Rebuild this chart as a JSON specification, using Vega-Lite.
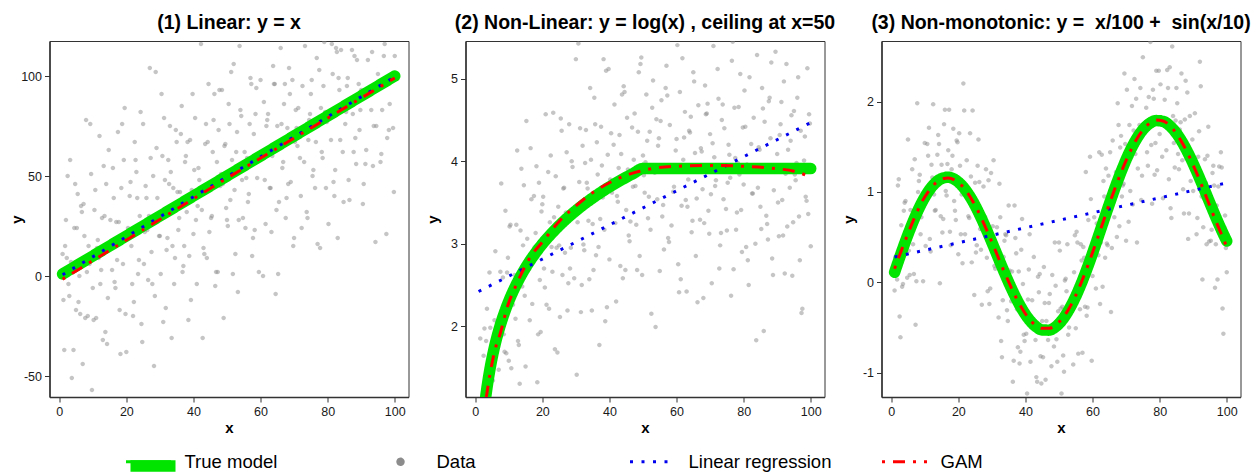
{
"$schema":"https://vega.github.io/schema/vega-lite/v6.json",
"padding":{"left":8.5,"top":12,"right":0,"bottom":0},
"background":"white",
"datasets":{
"d1":[{"x":1,"y":11},{"x":1.5,"y":-37},{"x":2,"y":28},{"x":2.5,"y":50},{"x":3,"y":-10},{"x":3.5,"y":7},{"x":4.5,"y":24},{"x":5,"y":-17},{"x":5.5,"y":41},{"x":6,"y":0},{"x":6.5,"y":35},{"x":7,"y":-44},{"x":7.5,"y":20},{"x":8,"y":78},{"x":8.5,"y":-20},{"x":9,"y":6},{"x":9.5,"y":51},{"x":10,"y":-6},{"x":10.5,"y":33},{"x":11,"y":-21},{"x":11.5,"y":18},{"x":12,"y":70},{"x":12.5,"y":3},{"x":13,"y":-32},{"x":13.5,"y":30},{"x":14,"y":46},{"x":14.5,"y":-11},{"x":15,"y":15},{"x":16,"y":54},{"x":16.5,"y":-3},{"x":17,"y":27},{"x":17.5,"y":72},{"x":18,"y":-17},{"x":18.5,"y":44},{"x":19,"y":6},{"x":19.5,"y":84},{"x":20,"y":-38},{"x":20.5,"y":24},{"x":21,"y":40},{"x":21.5,"y":15},{"x":22,"y":-20},{"x":22.5,"y":67},{"x":23,"y":52},{"x":23.5,"y":1},{"x":24,"y":30},{"x":24.5,"y":-24},{"x":25,"y":76},{"x":25.5,"y":22},{"x":26,"y":39},{"x":26.5,"y":-2},{"x":27,"y":104},{"x":27.5,"y":12},{"x":28,"y":50},{"x":28.5,"y":-10},{"x":29,"y":64},{"x":29.5,"y":30},{"x":30,"y":20},{"x":30.5,"y":91},{"x":31,"y":-23},{"x":31.5,"y":48},{"x":32,"y":13},{"x":32.5,"y":58},{"x":33,"y":75},{"x":33.5,"y":-31},{"x":34,"y":44},{"x":34.5,"y":9},{"x":35,"y":67},{"x":35.5,"y":23},{"x":36,"y":42},{"x":36.5,"y":85},{"x":37,"y":5},{"x":37.5,"y":57},{"x":38,"y":32},{"x":38.5,"y":-22},{"x":39,"y":68},{"x":39.5,"y":43},{"x":40,"y":21},{"x":40.5,"y":79},{"x":41,"y":-4},{"x":41.5,"y":54},{"x":42.5,"y":33},{"x":43,"y":14},{"x":43.5,"y":66},{"x":44,"y":9},{"x":44.5,"y":96},{"x":45,"y":45},{"x":45.5,"y":30},{"x":46,"y":78},{"x":46.5,"y":-5},{"x":47,"y":57},{"x":47.5,"y":73},{"x":48,"y":45},{"x":48.5,"y":93},{"x":49,"y":-21},{"x":49.5,"y":66},{"x":50,"y":28},{"x":50.5,"y":86},{"x":51,"y":38},{"x":51.5,"y":58},{"x":52,"y":106},{"x":52.5,"y":11},{"x":53,"y":72},{"x":53.5,"y":28},{"x":54,"y":83},{"x":54.5,"y":48},{"x":55.5,"y":24},{"x":56,"y":59},{"x":56.5,"y":41},{"x":57,"y":99},{"x":57.5,"y":10},{"x":58,"y":71},{"x":58.5,"y":81},{"x":59,"y":49},{"x":59.5,"y":2},{"x":60,"y":98},{"x":60.5,"y":61},{"x":61,"y":87},{"x":61.5,"y":26},{"x":62,"y":78},{"x":63,"y":44},{"x":63.5,"y":60},{"x":64,"y":96},{"x":64.5,"y":-9},{"x":65,"y":75},{"x":65.5,"y":37},{"x":66,"y":114},{"x":66.5,"y":54},{"x":67,"y":86},{"x":67.5,"y":29},{"x":68,"y":74},{"x":68.5,"y":104},{"x":69,"y":47},{"x":69.5,"y":98},{"x":70,"y":19},{"x":70.5,"y":83},{"x":71,"y":65},{"x":72,"y":40},{"x":72.5,"y":95},{"x":73,"y":57},{"x":74,"y":29},{"x":74.5,"y":78},{"x":75,"y":91},{"x":75.5,"y":50},{"x":76.5,"y":67},{"x":77,"y":16},{"x":77.5,"y":103},{"x":78,"y":84},{"x":78.5,"y":59},{"x":79,"y":117},{"x":79.5,"y":44},{"x":80,"y":80},{"x":81,"y":68},{"x":81.5,"y":101},{"x":82,"y":40},{"x":82.5,"y":114},{"x":83,"y":19},{"x":83.5,"y":93},{"x":84,"y":113},{"x":84.5,"y":62},{"x":85.5,"y":82},{"x":86,"y":99},{"x":86.5,"y":38},{"x":87.5,"y":81},{"x":88,"y":110},{"x":88.5,"y":56},{"x":89.5,"y":73},{"x":90,"y":93},{"x":90.5,"y":36},{"x":91.5,"y":63},{"x":92,"y":108},{"x":93,"y":83},{"x":93.5,"y":55},{"x":94.5,"y":75},{"x":95,"y":101},{"x":96,"y":61},{"x":96.5,"y":97},{"x":97,"y":116},{"x":97.5,"y":21},{"x":98.5,"y":86},{"x":99.5,"y":74},{"x":100,"y":110},
{"x":1.25,"y":-12},{"x":2.25,"y":9},{"x":3.25,"y":58},{"x":4.25,"y":-37},{"x":5.25,"y":24},{"x":6.25,"y":-19},{"x":7.25,"y":36},{"x":8.25,"y":2},{"x":9.25,"y":76},{"x":10.25,"y":-22},{"x":11.25,"y":14},{"x":12.25,"y":-4},{"x":13.25,"y":55},{"x":14.25,"y":-34},{"x":15.25,"y":28},{"x":16.25,"y":39},{"x":17.25,"y":8},{"x":18.25,"y":-39},{"x":19.25,"y":58},{"x":20.25,"y":20},{"x":21.25,"y":47},{"x":22.25,"y":-13},{"x":23.25,"y":39},{"x":24.25,"y":82},{"x":25.25,"y":6},{"x":26.25,"y":23},{"x":27.25,"y":59},{"x":28.25,"y":-45},{"x":29.25,"y":39},{"x":30.25,"y":1},{"x":31.25,"y":79},{"x":32.25,"y":19},{"x":33.25,"y":52},{"x":34.25,"y":-4},{"x":35.25,"y":42},{"x":36.25,"y":71},{"x":37.25,"y":15},{"x":38.25,"y":67},{"x":39.25,"y":-12},{"x":40.25,"y":53},{"x":41.25,"y":35},{"x":42.25,"y":116},{"x":43.25,"y":11},{"x":44.25,"y":67},{"x":45.25,"y":29},{"x":46.25,"y":91},{"x":47.25,"y":2},{"x":48.25,"y":51},{"x":49.25,"y":65},{"x":50.25,"y":25},{"x":51.25,"y":102},{"x":52.25,"y":43},{"x":53.25,"y":-8},{"x":54.25,"y":80},{"x":55.25,"y":62},{"x":56.25,"y":37},{"x":57.25,"y":96},{"x":58.25,"y":23},{"x":59.25,"y":59},{"x":61.25,"y":48},{"x":62.25,"y":81},{"x":63.25,"y":22},{"x":64.25,"y":96},{"x":65.25,"y":1},{"x":66.25,"y":76},{"x":67.25,"y":96},{"x":68.25,"y":46},{"x":70.25,"y":67},{"x":71.25,"y":84},{"x":72.25,"y":24},{"x":73.25,"y":115},{"x":74.25,"y":68},{"x":75.25,"y":98},{"x":76.25,"y":44},{"x":78.25,"y":62},{"x":79.25,"y":82},{"x":80.25,"y":26},{"x":81.25,"y":116},{"x":82.25,"y":53},{"x":83.25,"y":99},{"x":85.25,"y":76},{"x":86.25,"y":48},{"x":87.25,"y":113},{"x":88.25,"y":69},{"x":89.25,"y":96},{"x":91.25,"y":56},{"x":92.25,"y":92},{"x":93.25,"y":112},{"x":94.25,"y":17},{"x":96.25,"y":83},{"x":98.25,"y":73},
{"x":1.75,"y":15},{"x":2.75,"y":-4},{"x":3.75,"y":-51},{"x":4.75,"y":46},{"x":5.75,"y":-13},{"x":6.75,"y":32},{"x":7.75,"y":-21},{"x":8.75,"y":15},{"x":9.75,"y":-57},{"x":10.75,"y":43},{"x":11.75,"y":9},{"x":12.75,"y":29},{"x":13.75,"y":-28},{"x":14.75,"y":63},{"x":15.75,"y":3},{"x":16.75,"y":-6},{"x":17.75,"y":27},{"x":18.75,"y":76},{"x":19.75,"y":-19},{"x":20.75,"y":21},{"x":21.75,"y":-4},{"x":22.75,"y":58},{"x":23.75,"y":8},{"x":24.75,"y":-33},{"x":25.75,"y":45},{"x":26.75,"y":30},{"x":27.75,"y":-4},{"x":28.75,"y":102},{"x":29.75,"y":20},{"x":30.75,"y":60},{"x":31.75,"y":-16},{"x":32.75,"y":46},{"x":33.75,"y":15},{"x":34.75,"y":73},{"x":35.75,"y":29},{"x":36.75,"y":2},{"x":37.75,"y":60},{"x":38.75,"y":10},{"x":39.75,"y":91},{"x":40.75,"y":28},{"x":41.75,"y":48},{"x":42.75,"y":-31},{"x":43.75,"y":76},{"x":44.75,"y":22},{"x":45.75,"y":62},{"x":46.75,"y":2},{"x":47.75,"y":93},{"x":48.75,"y":46},{"x":49.75,"y":34},{"x":50.75,"y":76},{"x":51.75,"y":1},{"x":52.75,"y":62},{"x":53.75,"y":115},{"x":54.75,"y":29},{"x":55.75,"y":49},{"x":56.75,"y":76},{"x":57.75,"y":19},{"x":58.75,"y":94},{"x":59.75,"y":60},{"x":60.75,"y":0},{"x":61.75,"y":75},{"x":62.75,"y":44},{"x":63.75,"y":105},{"x":64.75,"y":33},{"x":66.75,"y":57},{"x":67.75,"y":39},{"x":68.75,"y":91},{"x":69.75,"y":15},{"x":70.75,"y":74},{"x":71.75,"y":59},{"x":73.75,"y":32},{"x":74.75,"y":81},{"x":75.75,"y":53},{"x":76.75,"y":109},{"x":77.75,"y":14},{"x":78.75,"y":95},{"x":79.75,"y":77},{"x":81.75,"y":47},{"x":82.75,"y":112},{"x":83.75,"y":68},{"x":84.75,"y":37},{"x":85.75,"y":95},{"x":87.75,"y":62},{"x":88.75,"y":108},{"x":89.75,"y":83},{"x":90.75,"y":46},{"x":92.75,"y":93},{"x":93.75,"y":75},{"x":95.75,"y":57},{"x":96.75,"y":110},{"x":97.75,"y":69},{"x":99.75,"y":42}],
"d2":[{"x":1.5,"y":1.85},{"x":2.5,"y":1.64},{"x":3.5,"y":2.21},{"x":4.5,"y":1.98},{"x":5,"y":1.61},{"x":6,"y":2.91},{"x":6.5,"y":2.03},{"x":7,"y":1.47},{"x":7.5,"y":2.66},{"x":8.5,"y":1.9},{"x":9,"y":3.4},{"x":9.5,"y":2.65},{"x":10,"y":1.58},{"x":10.5,"y":3.23},{"x":11.5,"y":2.52},{"x":12,"y":2.09},{"x":12.5,"y":4.13},{"x":13,"y":1.77},{"x":13.5,"y":3.16},{"x":14,"y":2.48},{"x":14.5,"y":3.71},{"x":15,"y":1.51},{"x":15.5,"y":3.06},{"x":16,"y":2.69},{"x":16.5,"y":4.16},{"x":17,"y":2.27},{"x":17.5,"y":3.58},{"x":18,"y":3.13},{"x":18.5,"y":1.32},{"x":19,"y":3.74},{"x":19.5,"y":1.93},{"x":20,"y":3.48},{"x":20.5,"y":2.7},{"x":21,"y":4.57},{"x":21.5,"y":3.07},{"x":22,"y":2.21},{"x":22.5,"y":4.07},{"x":23,"y":2.66},{"x":23.5,"y":3.32},{"x":24,"y":3.82},{"x":24.5,"y":1.68},{"x":25,"y":2.98},{"x":25.5,"y":4.52},{"x":26,"y":2.62},{"x":26.5,"y":3.68},{"x":27,"y":3.38},{"x":27.5,"y":2.19},{"x":28,"y":4.45},{"x":28.5,"y":2.95},{"x":29,"y":3.93},{"x":29.5,"y":2.58},{"x":30,"y":5.24},{"x":30.5,"y":3.26},{"x":31,"y":3.75},{"x":31.5,"y":2.17},{"x":32,"y":4.19},{"x":32.5,"y":2.92},{"x":33,"y":4.38},{"x":33.5,"y":3.67},{"x":34,"y":2.57},{"x":34.5,"y":4.02},{"x":35,"y":3.24},{"x":35.5,"y":4.77},{"x":36,"y":2.86},{"x":36.5,"y":3.84},{"x":37,"y":1.77},{"x":37.5,"y":4.42},{"x":38,"y":3.56},{"x":38.5,"y":3.17},{"x":39,"y":5.1},{"x":39.5,"y":4.08},{"x":40,"y":2.81},{"x":40.5,"y":4.34},{"x":41,"y":3.71},{"x":41.5,"y":4.69},{"x":42,"y":2.3},{"x":42.5,"y":3.51},{"x":43,"y":4.32},{"x":43.5,"y":4.09},{"x":44,"y":2.58},{"x":44.5,"y":4.84},{"x":45,"y":3.41},{"x":45.5,"y":3.9},{"x":46,"y":3.03},{"x":47,"y":3.69},{"x":47.5,"y":4.58},{"x":48,"y":3.23},{"x":48.5,"y":4.36},{"x":49,"y":2.85},{"x":49.5,"y":5.26},{"x":50,"y":4.07},{"x":50.5,"y":3.62},{"x":51,"y":4.81},{"x":51.5,"y":3.31},{"x":52,"y":4.36},{"x":52.5,"y":2.15},{"x":53,"y":4.98},{"x":53.5,"y":3.86},{"x":54,"y":4.51},{"x":54.5,"y":4.19},{"x":55,"y":2.67},{"x":55.5,"y":4.74},{"x":56,"y":3.47},{"x":56.5,"y":3.95},{"x":57,"y":5.16},{"x":57.5,"y":3.07},{"x":58,"y":4.44},{"x":58.5,"y":3.22},{"x":59,"y":3.63},{"x":60,"y":4.27},{"x":60.5,"y":2.75},{"x":61,"y":4.84},{"x":61.5,"y":3.46},{"x":62,"y":4.02},{"x":62.5,"y":4.6},{"x":63,"y":2.42},{"x":63.5,"y":3.78},{"x":64,"y":4.35},{"x":64.5,"y":3.14},{"x":65,"y":5.08},{"x":65.5,"y":4.1},{"x":66,"y":3.55},{"x":66.5,"y":4.68},{"x":67,"y":3.29},{"x":67.5,"y":4.12},{"x":68,"y":2.34},{"x":68.5,"y":4.92},{"x":69,"y":4.58},{"x":69.5,"y":3.4},{"x":70,"y":4.33},{"x":70.5,"y":2.52},{"x":71,"y":5.4},{"x":71.5,"y":3.7},{"x":72,"y":3.88},{"x":72.5,"y":4.76},{"x":73,"y":2.98},{"x":73.5,"y":4.5},{"x":74,"y":3.54},{"x":75,"y":3.16},{"x":75.5,"y":4.2},{"x":76,"y":3.8},{"x":76.5,"y":5.22},{"x":77,"y":2.69},{"x":77.5,"y":4.04},{"x":78,"y":3.38},{"x":78.5,"y":4.66},{"x":79,"y":5.06},{"x":79.5,"y":2.9},{"x":80,"y":3.72},{"x":80.5,"y":4.42},{"x":81,"y":3.96},{"x":81.5,"y":2.5},{"x":82.5,"y":3.61},{"x":83,"y":4.53},{"x":83.5,"y":3.0},{"x":84,"y":5.29},{"x":84.5,"y":4.17},{"x":85,"y":3.45},{"x":85.5,"y":4.89},{"x":86,"y":1.94},{"x":86.5,"y":3.93},{"x":87,"y":3.24},{"x":87.5,"y":4.73},{"x":88,"y":4.28},{"x":88.5,"y":2.82},{"x":89,"y":3.65},{"x":89.5,"y":5.33},{"x":90,"y":4.09},{"x":90.5,"y":3.09},{"x":91,"y":4.45},{"x":91.5,"y":3.53},{"x":92,"y":4.97},{"x":92.5,"y":3.85},{"x":93,"y":3.21},{"x":94,"y":4.25},{"x":94.5,"y":2.61},{"x":95,"y":4.61},{"x":95.5,"y":3.77},{"x":96,"y":4.77},{"x":96.5,"y":3.33},{"x":97,"y":4.37},{"x":97.5,"y":2.21},{"x":98,"y":4.01},{"x":98.5,"y":3.57},{"x":99,"y":5.13},{"x":99.5,"y":4.57},{"x":100,"y":2.97},
{"x":3.25,"y":1.82},{"x":4.25,"y":2.65},{"x":5.25,"y":1.34},{"x":6.25,"y":1.91},{"x":8.25,"y":2.59},{"x":9.25,"y":1.67},{"x":10.25,"y":3.21},{"x":11.25,"y":2.26},{"x":12.25,"y":3.23},{"x":13.25,"y":1.3},{"x":14.25,"y":2.98},{"x":15.25,"y":4.49},{"x":16.25,"y":2.07},{"x":17.25,"y":2.77},{"x":18.25,"y":3.94},{"x":19.25,"y":2.56},{"x":20.25,"y":3.57},{"x":21.25,"y":2.26},{"x":22.25,"y":3.26},{"x":23.25,"y":4.59},{"x":24.25,"y":2.95},{"x":25.25,"y":2.11},{"x":26.25,"y":3.67},{"x":27.25,"y":4.11},{"x":28.25,"y":2.7},{"x":29.25,"y":3.38},{"x":30.25,"y":1.41},{"x":31.25,"y":4.4},{"x":32.25,"y":2.99},{"x":33.25,"y":3.74},{"x":34.25,"y":4.89},{"x":35.25,"y":2.68},{"x":36.25,"y":4.23},{"x":37.25,"y":3.3},{"x":38.25,"y":5.24},{"x":39.25,"y":2.23},{"x":40.25,"y":3.78},{"x":41.25,"y":4.2},{"x":42.25,"y":3.58},{"x":43.25,"y":2.73},{"x":44.25,"y":4.91},{"x":45.25,"y":4.53},{"x":46.25,"y":3.27},{"x":47.25,"y":4.02},{"x":48.25,"y":2.68},{"x":49.25,"y":5.18},{"x":50.25,"y":3.83},{"x":51.25,"y":4.25},{"x":52.25,"y":3.17},{"x":54.25,"y":3.54},{"x":55.25,"y":4.49},{"x":56.25,"y":2.93},{"x":57.25,"y":4.8},{"x":58.25,"y":3.89},{"x":59.25,"y":3.69},{"x":60.25,"y":5.41},{"x":61.25,"y":2.57},{"x":62.25,"y":4.29},{"x":63.25,"y":3.45},{"x":64.25,"y":4.54},{"x":65.25,"y":4.97},{"x":66.25,"y":2.29},{"x":67.25,"y":4.16},{"x":68.25,"y":3.25},{"x":69.25,"y":4.7},{"x":70.25,"y":3.6},{"x":71.25,"y":4.05},{"x":72.25,"y":5.12},{"x":73.25,"y":3.13},{"x":74.25,"y":4.4},{"x":75.25,"y":3.74},{"x":76.25,"y":2.37},{"x":77.25,"y":4.65},{"x":78.25,"y":3.98},{"x":79.25,"y":3.41},{"x":80.25,"y":4.86},{"x":81.25,"y":2.8},{"x":82.25,"y":4.21},{"x":84.25,"y":3.68},{"x":85.25,"y":3.18},{"x":86.25,"y":4.48},{"x":87.25,"y":3.05},{"x":88.25,"y":5.2},{"x":89.25,"y":3.92},{"x":90.25,"y":3.5},{"x":91.25,"y":4.72},{"x":92.25,"y":2.64},{"x":93.25,"y":4.14},{"x":94.25,"y":4.56},{"x":95.25,"y":3.84},{"x":96.25,"y":5.02},{"x":97.25,"y":2.16},{"x":98.25,"y":4.3},{"x":99.25,"y":3.36},
{"x":2.75,"y":1.97},{"x":5.75,"y":2.07},{"x":6.75,"y":1.84},{"x":7.75,"y":3.73},{"x":8.75,"y":1.69},{"x":9.75,"y":2.83},{"x":10.75,"y":1.49},{"x":11.75,"y":2.62},{"x":12.75,"y":1.82},{"x":13.75,"y":3.91},{"x":14.75,"y":2.37},{"x":16.75,"y":3.54},{"x":17.75,"y":2.96},{"x":18.75,"y":1.9},{"x":19.75,"y":3.39},{"x":20.75,"y":2.47},{"x":21.75,"y":3.87},{"x":22.75,"y":2.96},{"x":23.75,"y":1.72},{"x":24.75,"y":3.45},{"x":25.75,"y":4.37},{"x":26.75,"y":2.89},{"x":27.75,"y":2.52},{"x":28.75,"y":4.0},{"x":29.75,"y":3.39},{"x":30.75,"y":5.43},{"x":31.75,"y":2.5},{"x":32.75,"y":3.98},{"x":33.75,"y":3.28},{"x":34.75,"y":2.19},{"x":35.75,"y":4.45},{"x":36.75,"y":2.96},{"x":37.75,"y":3.95},{"x":38.75,"y":2.06},{"x":39.75,"y":5.12},{"x":40.75,"y":3.62},{"x":41.75,"y":3.25},{"x":42.75,"y":3.92},{"x":43.75,"y":4.81},{"x":44.75,"y":2.68},{"x":45.75,"y":3.1},{"x":46.75,"y":4.41},{"x":47.75,"y":3.7},{"x":48.75,"y":5.08},{"x":49.75,"y":2.62},{"x":50.75,"y":3.99},{"x":51.75,"y":3.57},{"x":52.75,"y":4.65},{"x":53.75,"y":1.99},{"x":54.75,"y":4.28},{"x":55.75,"y":3.33},{"x":56.75,"y":4.89},{"x":57.75,"y":3.02},{"x":58.75,"y":3.93},{"x":59.75,"y":4.13},{"x":60.75,"y":2.41},{"x":61.75,"y":5.25},{"x":62.75,"y":3.53},{"x":63.75,"y":4.37},{"x":64.75,"y":3.28},{"x":65.75,"y":2.85},{"x":67.75,"y":3.66},{"x":68.75,"y":4.57},{"x":69.75,"y":3.12},{"x":70.75,"y":4.22},{"x":71.75,"y":3.77},{"x":72.75,"y":2.7},{"x":73.75,"y":4.69},{"x":74.75,"y":3.42},{"x":75.75,"y":4.08},{"x":76.75,"y":5.45},{"x":77.75,"y":3.17},{"x":78.75,"y":3.84},{"x":79.75,"y":4.41},{"x":80.75,"y":2.96},{"x":81.75,"y":5.02},{"x":82.75,"y":3.61},{"x":83.75,"y":1.83},{"x":84.75,"y":4.14},{"x":85.75,"y":4.64},{"x":86.75,"y":3.34},{"x":87.75,"y":4.77},{"x":88.75,"y":2.62},{"x":89.75,"y":3.9},{"x":90.75,"y":4.32},{"x":91.75,"y":3.1},{"x":92.75,"y":5.18},{"x":93.75,"y":3.68},{"x":94.75,"y":3.26},{"x":95.75,"y":3.98},{"x":96.75,"y":2.8},{"x":98.75,"y":3.52},{"x":99.75,"y":4.46}],
"d3":[{"x":1,"y":-0.09},{"x":1.5,"y":0.26},{"x":2,"y":1.07},{"x":2.5,"y":-0.38},{"x":3,"y":0.63},{"x":3.5,"y":-0.02},{"x":4,"y":0.88},{"x":4.5,"y":0.38},{"x":5,"y":1.58},{"x":5.5,"y":0.08},{"x":6,"y":0.67},{"x":6.5,"y":0.42},{"x":7,"y":1.36},{"x":7.5,"y":0.01},{"x":8,"y":1.0},{"x":8.5,"y":1.19},{"x":9,"y":0.72},{"x":9.5,"y":0.01},{"x":10,"y":1.54},{"x":10.5,"y":0.97},{"x":11,"y":1.4},{"x":11.5,"y":0.48},{"x":12,"y":1.3},{"x":12.5,"y":1.97},{"x":13,"y":0.79},{"x":13.5,"y":1.06},{"x":14,"y":1.63},{"x":14.5,"y":-0.01},{"x":15,"y":1.3},{"x":15.5,"y":0.7},{"x":16,"y":1.91},{"x":16.5,"y":0.96},{"x":17,"y":1.46},{"x":17.5,"y":0.56},{"x":18,"y":1.25},{"x":18.5,"y":1.7},{"x":19,"y":0.79},{"x":19.5,"y":1.57},{"x":20,"y":0.31},{"x":20.5,"y":1.29},{"x":21,"y":0.97},{"x":21.5,"y":2.2},{"x":22,"y":0.53},{"x":22.5,"y":1.35},{"x":23,"y":0.73},{"x":23.5,"y":1.65},{"x":24,"y":0.22},{"x":24.5,"y":0.93},{"x":25,"y":1.1},{"x":25.5,"y":0.41},{"x":26,"y":1.58},{"x":26.5,"y":0.59},{"x":27,"y":-0.25},{"x":27.5,"y":1.06},{"x":28,"y":0.72},{"x":28.5,"y":0.27},{"x":29,"y":1.13},{"x":29.5,"y":-0.07},{"x":30,"y":0.44},{"x":30.5,"y":1.35},{"x":31,"y":0.15},{"x":31.5,"y":0.61},{"x":32,"y":-0.39},{"x":32.5,"y":0.72},{"x":33,"y":-0.83},{"x":33.5,"y":0.28},{"x":34,"y":0.53},{"x":34.5,"y":-0.31},{"x":35,"y":0.85},{"x":35.5,"y":-0.09},{"x":36,"y":0.12},{"x":36.5,"y":-0.87},{"x":37,"y":0.49},{"x":37.5,"y":-0.3},{"x":38,"y":0.12},{"x":38.5,"y":-0.77},{"x":39,"y":0.7},{"x":39.5,"y":-0.58},{"x":40,"y":-0.31},{"x":40.5,"y":-1.23},{"x":41,"y":0.14},{"x":41.5,"y":-0.88},{"x":42,"y":-0.2},{"x":42.5,"y":0.28},{"x":43,"y":-0.64},{"x":43.5,"y":-1.1},{"x":44,"y":-0.11},{"x":44.5,"y":-0.82},{"x":45,"y":-0.43},{"x":45.5,"y":0.17},{"x":46,"y":-1.08},{"x":46.5,"y":-0.53},{"x":47,"y":-0.23},{"x":48,"y":0.08},{"x":48.5,"y":-0.71},{"x":49,"y":-0.04},{"x":49.5,"y":-0.88},{"x":50,"y":0.44},{"x":50.5,"y":-0.29},{"x":51,"y":-0.27},{"x":51.5,"y":-0.99},{"x":52,"y":0.04},{"x":52.5,"y":0.42},{"x":53,"y":-0.5},{"x":53.5,"y":-0.22},{"x":54.5,"y":0.11},{"x":55,"y":-0.51},{"x":55.5,"y":0.44},{"x":56,"y":-0.17},{"x":56.5,"y":0.42},{"x":57,"y":-0.78},{"x":57.5,"y":0.27},{"x":58,"y":1.22},{"x":58.5,"y":-0.28},{"x":59,"y":0.17},{"x":59.5,"y":0.92},{"x":60,"y":0.07},{"x":60.5,"y":0.72},{"x":61,"y":-0.07},{"x":61.5,"y":0.58},{"x":62,"y":1.44},{"x":62.5,"y":0.44},{"x":63,"y":-0.05},{"x":63.5,"y":0.95},{"x":64,"y":1.26},{"x":64.5,"y":0.41},{"x":65,"y":0.87},{"x":65.5,"y":-0.33},{"x":66,"y":1.57},{"x":66.5,"y":0.72},{"x":67,"y":1.22},{"x":67.5,"y":1.98},{"x":68,"y":0.62},{"x":68.5,"y":1.62},{"x":69,"y":1.07},{"x":69.5,"y":2.31},{"x":70,"y":0.46},{"x":70.5,"y":1.45},{"x":71,"y":1.74},{"x":71.5,"y":1.38},{"x":72,"y":0.86},{"x":72.5,"y":2.25},{"x":73,"y":2.03},{"x":73.5,"y":1.26},{"x":74,"y":1.74},{"x":74.5,"y":0.91},{"x":75,"y":2.49},{"x":75.5,"y":1.66},{"x":76,"y":1.93},{"x":76.5,"y":1.29},{"x":77.5,"y":1.52},{"x":78,"y":2.13},{"x":78.5,"y":1.19},{"x":79,"y":2.34},{"x":79.5,"y":1.79},{"x":80,"y":1.64},{"x":81,"y":0.93},{"x":81.5,"y":2.02},{"x":82,"y":1.46},{"x":82.5,"y":2.15},{"x":83,"y":2.38},{"x":83.5,"y":0.71},{"x":84,"y":1.84},{"x":84.5,"y":1.27},{"x":85,"y":2.15},{"x":85.5,"y":1.42},{"x":86,"y":1.69},{"x":86.5,"y":2.31},{"x":87,"y":1.03},{"x":87.5,"y":1.8},{"x":88,"y":1.37},{"x":88.5,"y":0.48},{"x":89,"y":1.84},{"x":89.5,"y":1.4},{"x":90,"y":1.01},{"x":90.5,"y":1.87},{"x":91,"y":0.53},{"x":91.5,"y":1.39},{"x":92,"y":2.44},{"x":92.5,"y":0.95},{"x":93,"y":0.61},{"x":93.5,"y":1.36},{"x":94,"y":0.42},{"x":94.5,"y":1.72},{"x":95,"y":0.88},{"x":95.5,"y":0.58},{"x":96,"y":1.29},{"x":96.5,"y":-0.06},{"x":97,"y":0.85},{"x":97.5,"y":1.06},{"x":98,"y":0.56},{"x":98.5,"y":1.27},{"x":99,"y":-0.57},{"x":99.5,"y":0.74},{"x":100,"y":0.11},
{"x":1.25,"y":0.28},{"x":2.25,"y":1.14},{"x":3.25,"y":-0.05},{"x":4.25,"y":0.9},{"x":5.25,"y":0.35},{"x":6.25,"y":1.25},{"x":7.25,"y":-0.47},{"x":8.25,"y":1.12},{"x":9.25,"y":0.88},{"x":10.25,"y":0.4},{"x":11.25,"y":1.71},{"x":12.25,"y":1.16},{"x":13.25,"y":0.8},{"x":14.25,"y":1.53},{"x":15.25,"y":0.55},{"x":16.25,"y":1.01},{"x":17.25,"y":1.91},{"x":18.25,"y":1.4},{"x":19.25,"y":0.69},{"x":20.25,"y":1.65},{"x":21.25,"y":0.21},{"x":22.25,"y":1.07},{"x":23.25,"y":0.71},{"x":24.25,"y":1.9},{"x":25.25,"y":0.33},{"x":26.25,"y":1.11},{"x":27.25,"y":0.58},{"x":28.25,"y":1.25},{"x":29.25,"y":-0.24},{"x":30.25,"y":0.62},{"x":31.25,"y":0.28},{"x":32.25,"y":1.09},{"x":33.25,"y":-0.2},{"x":34.25,"y":0.52},{"x":35.25,"y":0.13},{"x":36.25,"y":-1.1},{"x":37.25,"y":0.32},{"x":38.25,"y":-0.9},{"x":39.25,"y":-0.02},{"x":40.25,"y":-0.57},{"x":41.25,"y":0.53},{"x":42.25,"y":-0.46},{"x":43.25,"y":-1.05},{"x":44.25,"y":0.09},{"x":45.25,"y":-0.83},{"x":46.25,"y":-0.43},{"x":47.25,"y":-0.13},{"x":49.25,"y":-0.63},{"x":50.25,"y":0.35},{"x":51.25,"y":-0.81},{"x":52.25,"y":-0.1},{"x":53.25,"y":-0.24},{"x":54.25,"y":-0.91},{"x":55.25,"y":0.56},{"x":56.25,"y":-0.3},{"x":57.25,"y":0.39},{"x":58.25,"y":-0.37},{"x":59.25,"y":1.39},{"x":60.25,"y":0.24},{"x":61.25,"y":0.65},{"x":62.25,"y":-0.24},{"x":63.25,"y":1.12},{"x":64.25,"y":0.43},{"x":65.25,"y":1.44},{"x":66.25,"y":1.09},{"x":67.25,"y":0.5},{"x":68.25,"y":1.49},{"x":69.25,"y":1.09},{"x":70.25,"y":2.13},{"x":71.25,"y":1.01},{"x":72.25,"y":1.68},{"x":73.25,"y":0.44},{"x":74.25,"y":2.15},{"x":75.25,"y":1.65},{"x":76.25,"y":1.44},{"x":77.25,"y":2.66},{"x":78.25,"y":2.03},{"x":79.25,"y":1.24},{"x":80.25,"y":2.19},{"x":81.25,"y":1.78},{"x":82.25,"y":2.35},{"x":83.25,"y":0.82},{"x":84.25,"y":1.54},{"x":85.25,"y":1.98},{"x":86.25,"y":1.77},{"x":87.25,"y":0.76},{"x":88.25,"y":2.1},{"x":89.25,"y":1.12},{"x":90.25,"y":1.34},{"x":91.25,"y":0.71},{"x":92.25,"y":2.17},{"x":93.25,"y":0.93},{"x":94.25,"y":1.4},{"x":95.25,"y":0.46},{"x":96.25,"y":1.07},{"x":97.25,"y":0.03},{"x":98.25,"y":1.44},{"x":99.25,"y":0.61},
{"x":1.75,"y":0.03},{"x":2.75,"y":-0.61},{"x":3.75,"y":0.79},{"x":4.75,"y":0.05},{"x":5.75,"y":0.8},{"x":6.75,"y":0.09},{"x":7.75,"y":1.98},{"x":8.75,"y":0.53},{"x":9.75,"y":0.92},{"x":10.75,"y":1.53},{"x":11.75,"y":0.34},{"x":12.75,"y":0.97},{"x":13.75,"y":1.41},{"x":14.75,"y":0.73},{"x":15.75,"y":1.75},{"x":16.75,"y":1.31},{"x":17.75,"y":0.41},{"x":18.75,"y":0.9},{"x":19.75,"y":1.55},{"x":20.75,"y":0.53},{"x":21.75,"y":1.9},{"x":22.75,"y":0.92},{"x":23.75,"y":1.17},{"x":24.75,"y":-0.14},{"x":25.75,"y":1.29},{"x":26.75,"y":0.36},{"x":27.75,"y":0.73},{"x":28.75,"y":-0.1},{"x":29.75,"y":1.21},{"x":30.75,"y":0.18},{"x":31.75,"y":0.34},{"x":32.75,"y":-0.65},{"x":33.75,"y":0.46},{"x":34.75,"y":-0.43},{"x":35.75,"y":-0.21},{"x":36.75,"y":0.85},{"x":37.75,"y":-0.72},{"x":38.75,"y":0.36},{"x":39.75,"y":-0.65},{"x":40.75,"y":-0.19},{"x":42.75,"y":-0.48},{"x":43.75,"y":0.06},{"x":44.75,"y":-1.12},{"x":45.75,"y":-0.23},{"x":46.75,"y":-0.64},{"x":47.75,"y":-0.93},{"x":48.75,"y":0.44},{"x":49.75,"y":-0.32},{"x":50.75,"y":-1.23},{"x":51.75,"y":0.02},{"x":52.75,"y":-0.58},{"x":53.75,"y":-0.31},{"x":54.75,"y":0.52},{"x":55.75,"y":-0.79},{"x":56.75,"y":0.24},{"x":57.75,"y":-0.27},{"x":58.75,"y":0.69},{"x":59.75,"y":-0.87},{"x":60.75,"y":0.5},{"x":61.75,"y":0.3},{"x":62.75,"y":1.41},{"x":63.75,"y":0.27},{"x":64.75,"y":1.18},{"x":65.75,"y":0.38},{"x":66.75,"y":0.95},{"x":67.75,"y":1.74},{"x":68.75,"y":0.95},{"x":69.75,"y":1.53},{"x":70.75,"y":0.67},{"x":71.75,"y":1.95},{"x":72.75,"y":1.42},{"x":74.75,"y":1.18},{"x":75.75,"y":1.77},{"x":76.75,"y":2.05},{"x":77.75,"y":0.87},{"x":78.75,"y":1.54},{"x":79.75,"y":2.34},{"x":80.75,"y":1.39},{"x":81.75,"y":1.77},{"x":82.75,"y":1.14},{"x":83.75,"y":2.61},{"x":84.75,"y":1.79},{"x":85.75,"y":1.25},{"x":86.75,"y":1.35},{"x":87.75,"y":2.23},{"x":88.75,"y":0.76},{"x":89.75,"y":1.58},{"x":90.75,"y":1.2},{"x":91.75,"y":1.67},{"x":92.75,"y":0.03},{"x":93.75,"y":1.1},{"x":94.75,"y":0.45},{"x":95.75,"y":1.21},{"x":96.75,"y":0.42},{"x":97.75,"y":1.28},{"x":98.75,"y":-0.29},{"x":99.75,"y":0.38}],
"lines":[
{"p":1,"s":"t","x":1,"y":1},{"p":1,"s":"t","x":100,"y":100},
{"p":1,"s":"l","x":1,"y":0.6},{"p":1,"s":"l","x":100,"y":99.6},
{"p":1,"s":"g","x":1,"y":-1.6},{"p":1,"s":"g","x":50,"y":48.9},{"p":1,"s":"g","x":100,"y":99},
{"p":2,"s":"t","x":2.5,"y":0.916},{"p":2,"s":"t","x":3,"y":1.099},{"p":2,"s":"t","x":3.5,"y":1.253},{"p":2,"s":"t","x":4,"y":1.386},{"p":2,"s":"t","x":5,"y":1.609},{"p":2,"s":"t","x":6,"y":1.792},{"p":2,"s":"t","x":7,"y":1.946},{"p":2,"s":"t","x":8,"y":2.079},{"p":2,"s":"t","x":9,"y":2.197},{"p":2,"s":"t","x":10,"y":2.303},{"p":2,"s":"t","x":12,"y":2.485},{"p":2,"s":"t","x":14,"y":2.639},{"p":2,"s":"t","x":16,"y":2.773},{"p":2,"s":"t","x":18,"y":2.89},{"p":2,"s":"t","x":20,"y":2.996},{"p":2,"s":"t","x":23,"y":3.135},{"p":2,"s":"t","x":26,"y":3.258},{"p":2,"s":"t","x":29,"y":3.367},{"p":2,"s":"t","x":32,"y":3.466},{"p":2,"s":"t","x":35,"y":3.555},{"p":2,"s":"t","x":38,"y":3.638},{"p":2,"s":"t","x":41,"y":3.714},{"p":2,"s":"t","x":44,"y":3.784},{"p":2,"s":"t","x":47,"y":3.85},{"p":2,"s":"t","x":50,"y":3.912},{"p":2,"s":"t","x":100,"y":3.912},
{"p":2,"s":"l","x":1,"y":2.42},{"p":2,"s":"l","x":100,"y":4.47},
{"p":2,"s":"g","x":2.8,"y":1.0},{"p":2,"s":"g","x":4,"y":1.32},{"p":2,"s":"g","x":5,"y":1.55},{"p":2,"s":"g","x":6,"y":1.73},{"p":2,"s":"g","x":7.3,"y":1.89},{"p":2,"s":"g","x":9.7,"y":2.25},{"p":2,"s":"g","x":12,"y":2.48},{"p":2,"s":"g","x":16.6,"y":2.85},{"p":2,"s":"g","x":20,"y":3.02},{"p":2,"s":"g","x":25,"y":3.27},{"p":2,"s":"g","x":30,"y":3.46},{"p":2,"s":"g","x":35,"y":3.62},{"p":2,"s":"g","x":40,"y":3.74},{"p":2,"s":"g","x":45,"y":3.83},{"p":2,"s":"g","x":50,"y":3.89},{"p":2,"s":"g","x":60,"y":3.94},{"p":2,"s":"g","x":70,"y":3.95},{"p":2,"s":"g","x":80,"y":3.94},{"p":2,"s":"g","x":90,"y":3.91},{"p":2,"s":"g","x":95,"y":3.88},{"p":2,"s":"g","x":100,"y":3.81},
{"p":3,"s":"t","x":1,"y":0.11},{"p":3,"s":"t","x":3,"y":0.326},{"p":3,"s":"t","x":5,"y":0.529},{"p":3,"s":"t","x":7,"y":0.714},{"p":3,"s":"t","x":9,"y":0.873},{"p":3,"s":"t","x":11,"y":1.001},{"p":3,"s":"t","x":13,"y":1.094},{"p":3,"s":"t","x":15,"y":1.147},{"p":3,"s":"t","x":17,"y":1.162},{"p":3,"s":"t","x":19,"y":1.136},{"p":3,"s":"t","x":21,"y":1.073},{"p":3,"s":"t","x":23,"y":0.976},{"p":3,"s":"t","x":25,"y":0.849},{"p":3,"s":"t","x":27,"y":0.697},{"p":3,"s":"t","x":29,"y":0.529},{"p":3,"s":"t","x":31,"y":0.352},{"p":3,"s":"t","x":33,"y":0.172},{"p":3,"s":"t","x":35,"y":-0.001},{"p":3,"s":"t","x":37,"y":-0.16},{"p":3,"s":"t","x":39,"y":-0.298},{"p":3,"s":"t","x":41,"y":-0.408},{"p":3,"s":"t","x":43,"y":-0.486},{"p":3,"s":"t","x":45,"y":-0.528},{"p":3,"s":"t","x":47,"y":-0.53},{"p":3,"s":"t","x":49,"y":-0.493},{"p":3,"s":"t","x":51,"y":-0.416},{"p":3,"s":"t","x":53,"y":-0.302},{"p":3,"s":"t","x":55,"y":-0.156},{"p":3,"s":"t","x":57,"y":0.019},{"p":3,"s":"t","x":59,"y":0.216},{"p":3,"s":"t","x":61,"y":0.428},{"p":3,"s":"t","x":63,"y":0.647},{"p":3,"s":"t","x":65,"y":0.865},{"p":3,"s":"t","x":67,"y":1.075},{"p":3,"s":"t","x":69,"y":1.268},{"p":3,"s":"t","x":71,"y":1.439},{"p":3,"s":"t","x":73,"y":1.58},{"p":3,"s":"t","x":75,"y":1.688},{"p":3,"s":"t","x":77,"y":1.758},{"p":3,"s":"t","x":79,"y":1.789},{"p":3,"s":"t","x":81,"y":1.78},{"p":3,"s":"t","x":83,"y":1.732},{"p":3,"s":"t","x":85,"y":1.649},{"p":3,"s":"t","x":87,"y":1.533},{"p":3,"s":"t","x":89,"y":1.391},{"p":3,"s":"t","x":91,"y":1.229},{"p":3,"s":"t","x":93,"y":1.055},{"p":3,"s":"t","x":95,"y":0.875},{"p":3,"s":"t","x":97,"y":0.698},{"p":3,"s":"t","x":99,"y":0.533},{"p":3,"s":"t","x":100,"y":0.456},
{"p":3,"s":"l","x":1,"y":0.28},{"p":3,"s":"l","x":100,"y":1.1},
{"p":3,"s":"g","x":1,"y":0.15},{"p":3,"s":"g","x":3,"y":0.35},{"p":3,"s":"g","x":5,"y":0.54},{"p":3,"s":"g","x":7,"y":0.72},{"p":3,"s":"g","x":9,"y":0.88},{"p":3,"s":"g","x":11,"y":1.0},{"p":3,"s":"g","x":13,"y":1.09},{"p":3,"s":"g","x":15,"y":1.14},{"p":3,"s":"g","x":17,"y":1.155},{"p":3,"s":"g","x":19,"y":1.13},{"p":3,"s":"g","x":21,"y":1.07},{"p":3,"s":"g","x":23,"y":0.975},{"p":3,"s":"g","x":25,"y":0.85},{"p":3,"s":"g","x":27,"y":0.7},{"p":3,"s":"g","x":29,"y":0.53},{"p":3,"s":"g","x":31,"y":0.355},{"p":3,"s":"g","x":33,"y":0.175},{"p":3,"s":"g","x":35,"y":0.005},{"p":3,"s":"g","x":37,"y":-0.155},{"p":3,"s":"g","x":39,"y":-0.29},{"p":3,"s":"g","x":41,"y":-0.4},{"p":3,"s":"g","x":43,"y":-0.475},{"p":3,"s":"g","x":45,"y":-0.51},{"p":3,"s":"g","x":47,"y":-0.51},{"p":3,"s":"g","x":49,"y":-0.475},{"p":3,"s":"g","x":51,"y":-0.4},{"p":3,"s":"g","x":53,"y":-0.29},{"p":3,"s":"g","x":55,"y":-0.145},{"p":3,"s":"g","x":57,"y":0.03},{"p":3,"s":"g","x":59,"y":0.225},{"p":3,"s":"g","x":61,"y":0.435},{"p":3,"s":"g","x":63,"y":0.65},{"p":3,"s":"g","x":65,"y":0.865},{"p":3,"s":"g","x":67,"y":1.07},{"p":3,"s":"g","x":69,"y":1.26},{"p":3,"s":"g","x":71,"y":1.43},{"p":3,"s":"g","x":73,"y":1.575},{"p":3,"s":"g","x":75,"y":1.685},{"p":3,"s":"g","x":77,"y":1.76},{"p":3,"s":"g","x":79,"y":1.795},{"p":3,"s":"g","x":81,"y":1.785},{"p":3,"s":"g","x":83,"y":1.735},{"p":3,"s":"g","x":85,"y":1.645},{"p":3,"s":"g","x":87,"y":1.525},{"p":3,"s":"g","x":89,"y":1.38},{"p":3,"s":"g","x":91,"y":1.21},{"p":3,"s":"g","x":93,"y":1.03},{"p":3,"s":"g","x":95,"y":0.84},{"p":3,"s":"g","x":97,"y":0.655},{"p":3,"s":"g","x":99,"y":0.48},{"p":3,"s":"g","x":100,"y":0.39}
]
},
"spacing":57,
"bounds":"flush",
"hconcat":[
{"width":359,"height":356,"title":"(1) Linear: y = x",
"layer":[
{"data":{"name":"d1"},"mark":{"type":"point","filled":true,"size":1400,"opacity":0.5,"clip":true},
"encoding":{
"x":{"field":"x","type":"quantitative","scale":{"domain":[-2.9,104.1],"nice":false,"zero":false},"axis":{"values":[0,20,40,60,80,100],"title":"x","labelExpr":"'' + datum.value"}},
"y":{"field":"y","type":"quantitative","scale":{"domain":[-60.5,117.5],"nice":false,"zero":false},"axis":{"values":[-50,0,50,100],"title":"y","labelExpr":"'' + datum.value"}},
"color":{"datum":"Data","scale":{"domain":["True model","Data","Linear regression","GAM"],"range":["#00E400","#8C8C8C","#0000EE","#FF0000"]},
"legend":{"orient":"none","legendX":75,"legendY":396.5,"direction":"horizontal","title":null,"columns":4,"gridAlign":"all","columnPadding":44,"symbolOpacity":1,"symbolSize":2025,"symbolStrokeWidth":3,"labelFontSize":18.5,"labelColor":"#000000","labelOffset":12,"labelLimit":400}},
"shape":{"datum":"Data","scale":{"domain":["True model","Data","Linear regression","GAM"],"range":["stroke","M-0.12,0A0.12,0.12,0,1,0,0.12,0A0.12,0.12,0,1,0,-0.12,0Z","stroke","stroke"]},"legend":{"title":null,"symbolOpacity":1}}
}},
{"data":{"name":"lines"},"transform":[{"filter":"datum.p == 1 && datum.s == 't'"}],"mark":{"type":"line","strokeCap":"round","strokeJoin":"round","clip":true},"encoding":{"x":{"field":"x","type":"quantitative"},"y":{"field":"y","type":"quantitative"},"color":{"datum":"True model"},
"strokeDash":{"datum":"True model","scale":{"domain":["True model","Data","Linear regression","GAM"],"range":[[1,0],[1,0],[3,8.5],[3,8,12,8]]},"legend":{"title":null,"symbolOpacity":1}},
"strokeWidth":{"datum":"True model","scale":{"domain":["True model"],"range":[11.5,11.5]},
"legend":{"orient":"none","legendX":75,"legendY":396.5,"direction":"horizontal","title":null,"symbolType":"stroke","symbolSize":2025,"symbolStrokeColor":"#00E400","symbolOpacity":1,"labelExpr":"''","labelFontSize":18.5,"labelOffset":12}}}},
{"data":{"name":"lines"},"transform":[{"filter":"datum.p == 1 && datum.s == 'l'"}],"mark":{"type":"line","strokeWidth":3,"clip":true},"encoding":{"x":{"field":"x","type":"quantitative"},"y":{"field":"y","type":"quantitative"},"color":{"datum":"Linear regression"},"strokeDash":{"datum":"Linear regression"}}},
{"data":{"name":"lines"},"transform":[{"filter":"datum.p == 1 && datum.s == 'g'"}],"mark":{"type":"line","strokeWidth":3,"clip":true},"encoding":{"x":{"field":"x","type":"quantitative"},"y":{"field":"y","type":"quantitative"},"color":{"datum":"GAM"},"strokeDash":{"datum":"GAM"}}}
]},
{"width":359,"height":356,"title":"(2) Non-Linear: y = log(x) , ceiling at x=50",
"layer":[
{"data":{"name":"d2"},"mark":{"type":"point","filled":true,"size":1400,"opacity":0.5,"clip":true},
"encoding":{
"x":{"field":"x","type":"quantitative","scale":{"domain":[-2.9,104.1],"nice":false,"zero":false},"axis":{"values":[0,20,40,60,80,100],"title":"x","labelExpr":"'' + datum.value"}},
"y":{"field":"y","type":"quantitative","scale":{"domain":[1.14,5.46],"nice":false,"zero":false},"axis":{"values":[2,3,4,5],"title":"y","labelExpr":"'' + datum.value"}},
"color":{"datum":"Data"},"shape":{"datum":"Data"}}},
{"data":{"name":"lines"},"transform":[{"filter":"datum.p == 2 && datum.s == 't'"}],"mark":{"type":"line","strokeCap":"round","strokeJoin":"round","interpolate":"monotone","clip":true},"encoding":{"x":{"field":"x","type":"quantitative"},"y":{"field":"y","type":"quantitative"},"color":{"datum":"True model"},"strokeDash":{"datum":"True model"},"strokeWidth":{"datum":"True model"}}},
{"data":{"name":"lines"},"transform":[{"filter":"datum.p == 2 && datum.s == 'l'"}],"mark":{"type":"line","strokeWidth":3,"clip":true},"encoding":{"x":{"field":"x","type":"quantitative"},"y":{"field":"y","type":"quantitative"},"color":{"datum":"Linear regression"},"strokeDash":{"datum":"Linear regression"}}},
{"data":{"name":"lines"},"transform":[{"filter":"datum.p == 2 && datum.s == 'g'"}],"mark":{"type":"line","strokeWidth":3,"interpolate":"monotone","clip":true},"encoding":{"x":{"field":"x","type":"quantitative"},"y":{"field":"y","type":"quantitative"},"color":{"datum":"GAM"},"strokeDash":{"datum":"GAM"}}}
]},
{"width":359,"height":356,"title":"(3) Non-monotonic: y = \u00a0x/100 + \u00a0sin(x/10)",
"layer":[
{"data":{"name":"d3"},"mark":{"type":"point","filled":true,"size":1400,"opacity":0.5,"clip":true},
"encoding":{
"x":{"field":"x","type":"quantitative","scale":{"domain":[-2.9,104.1],"nice":false,"zero":false},"axis":{"values":[0,20,40,60,80,100],"title":"x","labelExpr":"'' + datum.value"}},
"y":{"field":"y","type":"quantitative","scale":{"domain":[-1.27,2.67],"nice":false,"zero":false},"axis":{"values":[-1,0,1,2],"title":"y","labelExpr":"'' + datum.value"}},
"color":{"datum":"Data"},"shape":{"datum":"Data"}}},
{"data":{"name":"lines"},"transform":[{"filter":"datum.p == 3 && datum.s == 't'"}],"mark":{"type":"line","strokeCap":"round","strokeJoin":"round","interpolate":"monotone","clip":true},"encoding":{"x":{"field":"x","type":"quantitative"},"y":{"field":"y","type":"quantitative"},"color":{"datum":"True model"},"strokeDash":{"datum":"True model"},"strokeWidth":{"datum":"True model"}}},
{"data":{"name":"lines"},"transform":[{"filter":"datum.p == 3 && datum.s == 'l'"}],"mark":{"type":"line","strokeWidth":3,"clip":true},"encoding":{"x":{"field":"x","type":"quantitative"},"y":{"field":"y","type":"quantitative"},"color":{"datum":"Linear regression"},"strokeDash":{"datum":"Linear regression"}}},
{"data":{"name":"lines"},"transform":[{"filter":"datum.p == 3 && datum.s == 'g'"}],"mark":{"type":"line","strokeWidth":3,"interpolate":"monotone","clip":true},"encoding":{"x":{"field":"x","type":"quantitative"},"y":{"field":"y","type":"quantitative"},"color":{"datum":"GAM"},"strokeDash":{"datum":"GAM"}}}
]}
],
"resolve":{"scale":{"color":"shared","shape":"shared","strokeDash":"shared","strokeWidth":"shared"},"legend":{"color":"shared","shape":"shared","strokeDash":"shared","strokeWidth":"shared"}},
"config":{
"font":"Liberation Sans",
"view":{"stroke":"#333333","strokeWidth":1},
"axis":{"grid":false,"domainColor":"#333333","domainWidth":1.5,"tickColor":"#333333","tickSize":5,"tickWidth":1,"labelFontSize":12.5,"labelColor":"#1a1a1a","labelPadding":3,"titleFontSize":15,"titleFontWeight":"bold","titleColor":"#000000"},
"axisX":{"titlePadding":3},
"axisY":{"titleX":-33,"titleY":178,"titleBaseline":"middle","titleAngle":-90},
"title":{"fontSize":19.5,"fontWeight":"bold","color":"#000000","anchor":"middle","offset":8},
"legend":{"padding":0,"symbolOpacity":1}
}
}
